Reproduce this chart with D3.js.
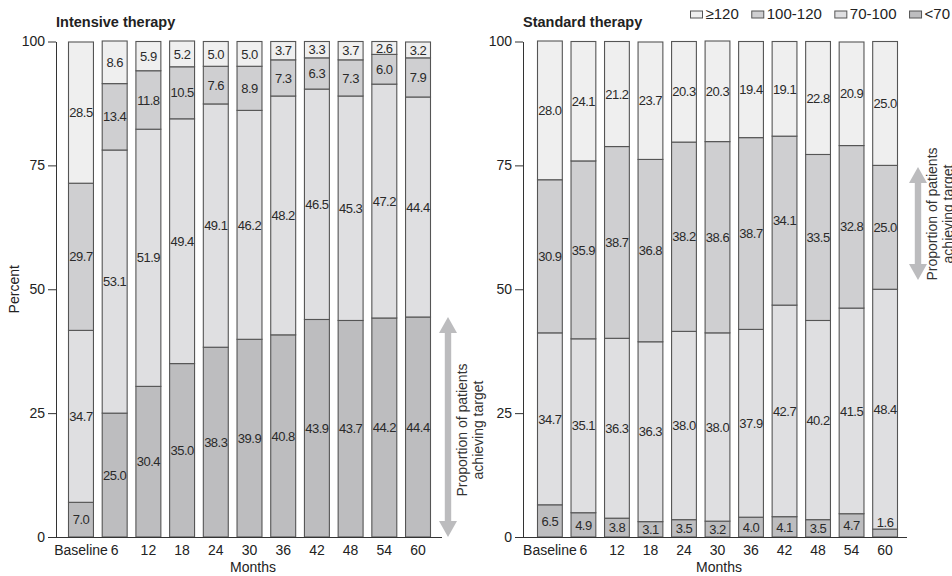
<!DOCTYPE html>
<html>
<head>
<meta charset="utf-8">
<script src="https://cdn.jsdelivr.net/npm/d3@7/dist/d3.min.js"></script>
<style>
  html, body { margin: 0; padding: 0; background: #fff; }
  svg { display: block; font-family: "Liberation Sans", Arial, Helvetica, sans-serif; }
</style>
</head>
<body>
<svg id="chart" width="952" height="576"></svg>
<script>
// Visit time points on the x axis
const months = ["Baseline", "6", "12", "18", "24", "30", "36", "42", "48", "54", "60"];
// Blood-pressure bands (stack order: bottom to top)
const bands = ["<70", "70-100", "100-120", "≥120"];
const legendOrder = ["≥120", "100-120", "70-100", "<70"];
const yTicks = [0, 25, 50, 75, 100];

// Intensive therapy, percent of patients per band
const intensiveBelow70  = [7.0, 25.0, 30.4, 35.0, 38.3, 39.9, 40.8, 43.9, 43.7, 44.2, 44.4];
const intensive70to100  = [34.7, 53.1, 51.9, 49.4, 49.1, 46.2, 48.2, 46.5, 45.3, 47.2, 44.4];
const intensive100to120 = [29.7, 13.4, 11.8, 10.5, 7.6, 8.9, 7.3, 6.3, 7.3, 6.0, 7.9];
const intensive120plus  = [28.5, 8.6, 5.9, 5.2, 5.0, 5.0, 3.7, 3.3, 3.7, 2.6, 3.2];

// Standard therapy, percent of patients per band
const standardBelow70  = [6.5, 4.9, 3.8, 3.1, 3.5, 3.2, 4.0, 4.1, 3.5, 4.7, 1.6];
const standard70to100  = [34.7, 35.1, 36.3, 36.3, 38.0, 38.0, 37.9, 42.7, 40.2, 41.5, 48.4];
const standard100to120 = [30.9, 35.9, 38.7, 36.8, 38.2, 38.6, 38.7, 34.1, 33.5, 32.8, 25.0];
const standard120plus  = [28.0, 24.1, 21.2, 23.7, 20.3, 20.3, 19.4, 19.1, 22.8, 20.9, 25.0];

const fills = { "<70": "#bdbdbf", "70-100": "#dfdfe1", "100-120": "#cfcfd1", "≥120": "#efefef" };

function rows(below70, b70, b100, b120) {
  return months.map((m, i) => ({
    month: m, "<70": below70[i], "70-100": b70[i], "100-120": b100[i], "≥120": b120[i]
  }));
}

const panels = [
  { title: "Intensive therapy", data: rows(intensiveBelow70, intensive70to100, intensive100to120, intensive120plus),
    axisX: 56, barL: 68, barR: 431, axisEnd: 442, showPercent: true,
    arrow: { x: 448, top: 317, bottom: 537, textY: 430 } },
  { title: "Standard therapy", data: rows(standardBelow70, standard70to100, standard100to120, standard120plus),
    axisX: 523, barL: 537, barR: 898, axisEnd: 907, showPercent: false,
    arrow: { x: 918, top: 167, bottom: 280, textY: 214 } }
];

const svg = d3.select("#chart");
const y = d3.scaleLinear().domain([0, 100]).range([537, 41.5]);
const stack = d3.stack().keys(bands);

panels.forEach(p => {
  const g = svg.append("g");
  const x = d3.scaleBand().domain(months).range([p.barL, p.barR]).paddingInner(0.23).paddingOuter(0);
  const layers = stack(p.data);

  // stacked bar segments
  const barG = g.append("g");
  layers.forEach(layer => {
    barG.append("g").selectAll("rect").data(layer).join("rect")
      .attr("x", d => x(d.data.month) + 0.5)
      .attr("y", d => y(d[1]))
      .attr("width", x.bandwidth() - 1)
      .attr("height", d => y(d[0]) - y(d[1]))
      .attr("fill", fills[layer.key])
      .attr("stroke", "#555")
      .attr("stroke-width", 1.1);
  });

  // value labels, drawn over every segment
  const labG = g.append("g");
  layers.forEach(layer => {
    const key = layer.key;
    labG.append("g").selectAll("text").data(layer).join("text")
      .attr("x", d => x(d.data.month) + x.bandwidth() / 2)
      .attr("y", d => {
        const top = y(d[1]), bot = y(d[0]);
        return (bot - top < 10) ? top - 7 : (top + bot) / 2;
      })
      .attr("dy", "0.36em")
      .attr("text-anchor", "middle")
      .attr("font-size", 13)
      .attr("letter-spacing", -0.5)
      .attr("fill", "#2a2a2a")
      .text(d => d.data[key].toFixed(1));
  });

  // y axis
  const ya = g.append("g").attr("transform", `translate(${p.axisX},0)`)
    .call(d3.axisLeft(y).tickValues(yTicks).tickSize(8).tickSizeOuter(0).tickPadding(3));
  ya.select(".domain").attr("stroke", "#333");
  ya.selectAll(".tick line").attr("stroke", "#333");
  ya.selectAll(".tick text").attr("font-size", 14).attr("fill", "#222").attr("font-family", null);

  // x axis
  const xa = g.append("g").attr("transform", "translate(0,537)")
    .call(d3.axisBottom(x).tickSize(0).tickPadding(8));
  xa.select(".domain").remove();
  xa.selectAll(".tick text").attr("font-size", 14).attr("fill", "#222").attr("font-family", null);
  g.append("line").attr("x1", p.axisX).attr("x2", p.axisEnd).attr("y1", 537.5).attr("y2", 537.5)
    .attr("stroke", "#333");

  g.append("text").attr("x", (p.axisX + p.axisEnd) / 2 + 4).attr("y", 572)
    .attr("text-anchor", "middle").attr("font-size", 14).attr("fill", "#222").text("Months");

  g.append("text").attr("x", p.axisX).attr("y", 27)
    .attr("font-size", 14.5).attr("font-weight", "bold").attr("fill", "#222").text(p.title);

  if (p.showPercent) {
    g.append("text").attr("transform", `translate(19,${y(50)}) rotate(-90)`)
      .attr("text-anchor", "middle").attr("font-size", 14).attr("fill", "#222").text("Percent");
  }

  // double-headed arrow marking the share of patients at target
  const a = p.arrow, head = 16, hw = 9, sw = 3.2;
  g.append("path")
    .attr("d", `M${a.x},${a.top} L${a.x + hw},${a.top + head} L${a.x + sw},${a.top + head}
                L${a.x + sw},${a.bottom - head} L${a.x + hw},${a.bottom - head} L${a.x},${a.bottom}
                L${a.x - hw},${a.bottom - head} L${a.x - sw},${a.bottom - head}
                L${a.x - sw},${a.top + head} L${a.x - hw},${a.top + head} Z`)
    .attr("fill", "#bcbcbe");
  const t = g.append("text").attr("transform", `translate(${a.x + 14},${a.textY}) rotate(-90)`)
    .attr("text-anchor", "middle").attr("font-size", 14).attr("fill", "#333");
  t.append("tspan").attr("x", 0).attr("dy", "0.35em").text("Proportion of patients");
  t.append("tspan").attr("x", 0).attr("dy", "1.15em").text("achieving target");
});

// legend, right-aligned at the top
const legend = svg.append("g");
let cursor = 950;
legendOrder.slice().reverse().forEach(k => {
  const txt = legend.append("text").attr("y", 19).attr("font-size", 15).attr("fill", "#222").text(k);
  const w = txt.node().getComputedTextLength();
  cursor -= w;
  txt.attr("x", cursor);
  cursor -= 3 + 12;
  legend.append("rect").attr("x", cursor).attr("y", 11).attr("width", 12).attr("height", 7)
    .attr("fill", fills[k]).attr("stroke", "#555").attr("stroke-width", 1);
  cursor -= 13;
});
</script>
</body>
</html>
